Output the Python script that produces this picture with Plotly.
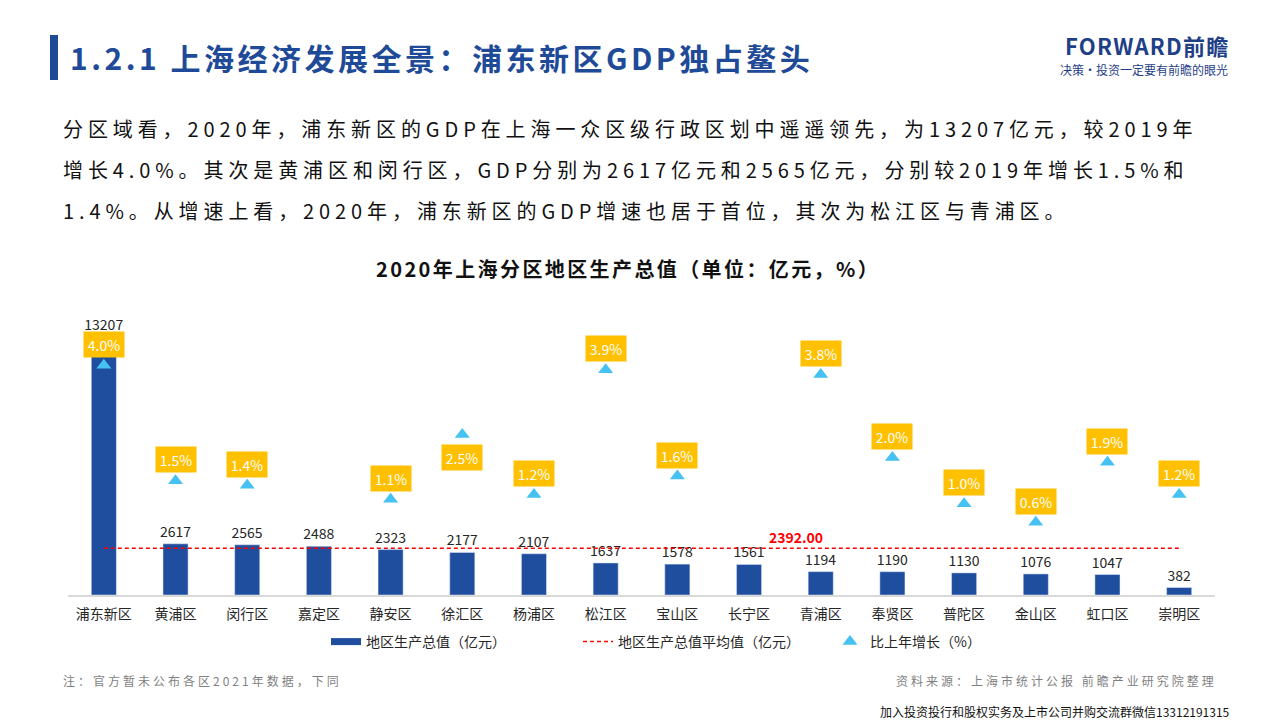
import plotly.graph_objects as go

# ---------------- data ----------------
districts = ["浦东新区", "黄浦区", "闵行区", "嘉定区", "静安区", "徐汇区", "杨浦区", "松江区",
             "宝山区", "长宁区", "青浦区", "奉贤区", "普陀区", "金山区", "虹口区", "崇明区"]
gdp = [13207, 2617, 2565, 2488, 2323, 2177, 2107, 1637, 1578, 1561, 1194, 1190, 1130, 1076, 1047, 382]
growth = [4.0, 1.5, 1.4, None, 1.1, 2.5, 1.2, 3.9, 1.6, None, 3.8, 2.0, 1.0, 0.6, 1.9, 1.2]
avg_gdp = 2392.00

series_names = ["地区生产总值（亿元）", "地区生产总值平均值（亿元）", "比上年增长（%）"]
page_title = "1.2.1 上海经济发展全景：浦东新区GDP独占鳌头"
chart_title = "2020年上海分区地区生产总值（单位：亿元，%）"
paragraph = [
    "分区域看，2020年，浦东新区的GDP在上海一众区级行政区划中遥遥领先，为13207亿元，较2019年",
    "增长4.0%。其次是黄浦区和闵行区，GDP分别为2617亿元和2565亿元，分别较2019年增长1.5%和",
    "1.4%。从增速上看，2020年，浦东新区的GDP增速也居于首位，其次为松江区与青浦区。",
]
note_text = "注：官方暂未公布各区2021年数据，下同"
source_text = "资料来源：上海市统计公报 前瞻产业研究院整理"
contact_text = "加入投资投行和股权实务及上市公司并购交流群微信13312191315"
brand_text = "FORWARD前瞻"
brand_slogan = "决策·投资一定要有前瞻的眼光"
labels_below = {"徐汇区"}

# ---------------- styling ----------------
W, H = 1280, 720
FONT = "Noto Sans CJK SC"
BLUE = "#1F4E9E"
TITLE_BLUE = "#1E4A98"
TRI = "#45C1F2"
YELLOW = "#FFC000"


def px_x(p):
    return p / W


def px_y(p):
    return 1 - p / H


def spaced(t, s):
    return f"<span style='letter-spacing:{s}px'>{t}</span>"


fig = go.Figure()

fig.add_trace(go.Bar(
    x=districts, y=gdp, marker_color=BLUE, width=0.35,
    text=[str(v) for v in gdp], textposition="outside", constraintext="none",
    textfont=dict(size=14, color="#262626", family=FONT),
    cliponaxis=False, showlegend=False, name=series_names[0],
))
# legend swatch for bars (thick line like the reference)
fig.add_trace(go.Scatter(
    x=[None], y=[None], mode="lines", line=dict(color=BLUE, width=7),
    name=series_names[0], showlegend=True,
))
fig.add_trace(go.Scatter(
    x=districts, y=[avg_gdp] * len(districts), mode="lines",
    line=dict(color="#FF0000", width=1.5, dash="4px,3px"),
    name=series_names[1], cliponaxis=False,
))
fig.add_trace(go.Scatter(
    x=districts, y=growth, mode="markers", yaxis="y2",
    marker=dict(symbol="triangle-up", size=13, color=TRI),
    name=series_names[2], cliponaxis=False,
))

annotations = []
for d, g in zip(districts, growth):
    if g is None:
        continue
    annotations.append(dict(
        x=d, y=g, xref="x", yref="y2",
        yshift=-23 if d in labels_below else 21,
        text=f"{g:.1f}%", showarrow=False,
        font=dict(size=14, color="white", family=FONT),
        bgcolor=YELLOW, width=38, height=23, valign="middle",
    ))

annotations.append(dict(
    x=9.65, y=avg_gdp, xref="x", yref="y", yshift=11,
    text="<b>%.2f</b>" % avg_gdp, showarrow=False,
    font=dict(size=14, color="#FF0000", family=FONT),
))

# page title
annotations.append(dict(
    x=px_x(68), y=px_y(57), xref="paper", yref="paper", xanchor="left", yanchor="middle",
    text="<b>" + spaced(page_title, 3.5) + "</b>", showarrow=False, align="left",
    font=dict(size=30, color=TITLE_BLUE, family=FONT),
))
# brand
annotations.append(dict(
    x=px_x(1231), y=px_y(45), xref="paper", yref="paper", xanchor="right", yanchor="middle",
    text="<b>" + spaced(brand_text, 1.2) + "</b>", showarrow=False,
    font=dict(size=22, color="#1F3F87", family=FONT),
))
annotations.append(dict(
    x=px_x(1230), y=px_y(69), xref="paper", yref="paper", xanchor="right", yanchor="middle",
    text=brand_slogan, showarrow=False,
    font=dict(size=12, color="#1F3F87", family=FONT),
))
# paragraph
for i, (line, yy) in enumerate(zip(paragraph, [128, 169, 210])):
    annotations.append(dict(
        x=px_x(61), y=px_y(yy), xref="paper", yref="paper", xanchor="left", yanchor="middle",
        text=spaced(line, 4.9), showarrow=False, align="left",
        font=dict(size=20, color="#111111", family=FONT),
    ))
# chart title
annotations.append(dict(
    x=px_x(628), y=px_y(268), xref="paper", yref="paper", xanchor="center", yanchor="middle",
    text="<b>" + spaced(chart_title, 2.4) + "</b>", showarrow=False,
    font=dict(size=20, color="#111111", family=FONT),
))
# footer
annotations.append(dict(
    x=px_x(61), y=px_y(680), xref="paper", yref="paper", xanchor="left", yanchor="middle",
    text=spaced(note_text, 3), showarrow=False, align="left",
    font=dict(size=12, color="#7F7F7F", family=FONT),
))
annotations.append(dict(
    x=px_x(1219), y=px_y(680), xref="paper", yref="paper", xanchor="right", yanchor="middle",
    text=spaced(source_text, 3), showarrow=False, align="right",
    font=dict(size=12, color="#7F7F7F", family=FONT),
))
annotations.append(dict(
    x=px_x(1232), y=px_y(711), xref="paper", yref="paper", xanchor="right", yanchor="middle",
    text=contact_text, showarrow=False, align="right",
    font=dict(size=12, color="#111111", family=FONT),
))

shapes = [dict(
    type="rect", xref="paper", yref="paper",
    x0=px_x(50), x1=px_x(58), y0=px_y(80), y1=px_y(35),
    fillcolor=TITLE_BLUE, line=dict(width=0),
)]

y_top_px, y_base_px = 300, 595
px_per_val = 51.1
y2_zero_px, px_per_pct = 550, 46.2

fig.update_layout(
    width=W, height=H,
    margin=dict(l=0, r=0, t=0, b=0),
    paper_bgcolor="white", plot_bgcolor="white",
    font=dict(family=FONT, color="#262626"),
    xaxis=dict(
        domain=[px_x(68), px_x(1215)], type="category", range=[-0.5, 15.5],
        showline=True, linecolor="#D9D9D9", linewidth=1.5,
        ticks="outside", ticklen=5, tickcolor="rgba(0,0,0,0)",
        showgrid=False, zeroline=False,
        tickfont=dict(size=14, color="#262626", family=FONT),
    ),
    yaxis=dict(
        domain=[px_y(y_base_px), px_y(y_top_px)],
        range=[0, (y_base_px - y_top_px) * px_per_val],
        visible=False, showgrid=False, zeroline=False,
    ),
    yaxis2=dict(
        domain=[px_y(y_base_px), px_y(y_top_px)], overlaying="y", anchor="x",
        range=[-(y_base_px - y2_zero_px) / px_per_pct, (y2_zero_px - y_top_px) / px_per_pct],
        visible=False, showgrid=False, zeroline=False,
    ),
    legend=dict(
        orientation="h", x=px_x(326), xanchor="left", y=px_y(642), yanchor="middle",
        font=dict(size=14, color="#262626", family=FONT),
        bgcolor="rgba(0,0,0,0)", itemwidth=30, traceorder="normal",
        entrywidth=207, entrywidthmode="pixels",
    ),
    annotations=annotations,
    shapes=shapes,
)

fig.write_html("out.html", config={"displayModeBar": False},
               post_script="document.body.style.margin='0px';")
